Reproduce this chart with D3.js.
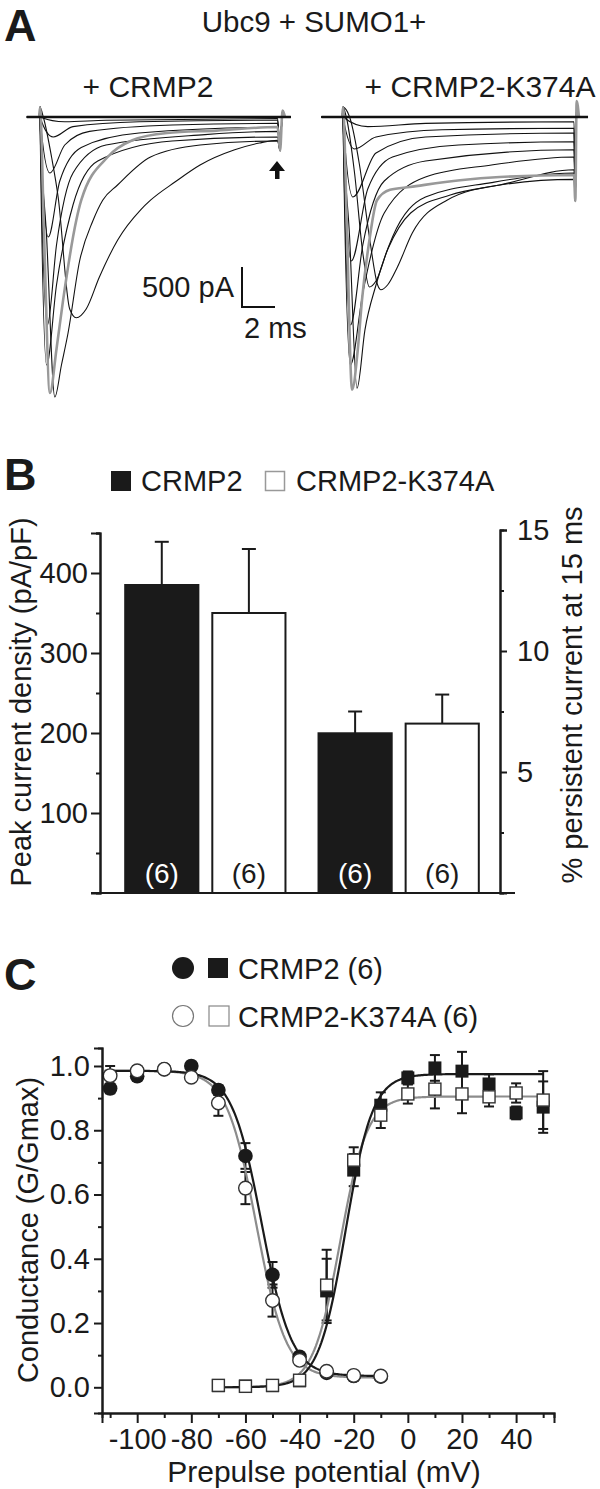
<!DOCTYPE html>
<html>
<head>
<meta charset="utf-8">
<script src="https://cdn.jsdelivr.net/npm/d3@7"></script>
<style>
  body { margin: 0; background: #fff; }
  svg { display: block; }
</style>
</head>
<body>
<svg id="fig" width="600" height="1489"></svg>
<script>
const FONT = '"Liberation Sans", Arial, Helvetica, sans-serif';

// ---------------- Panel A: current traces, [ms, pA] ----------------
const tracesCRMP2 = [
  [[-0.8, 0], [15.2, 0]],
  [[-0.8, 0], [0, 0], [1.5, -60], [4, -40], [14.4, -20]],
  [[-0.8, 0], [0, 0], [0.8, -250], [2, -120], [6, -60], [14.4, -40]],
  [[-0.8, 0], [0, 0], [0.6, -700], [1.5, -350], [3, -180], [8, -100], [14.4, -80]],
  [[-0.8, 0], [0, 0], [0.5, -1500], [1.2, -800], [2.5, -380], [6, -200], [14.4, -130]],
  [[-0.8, 0], [0, 0], [0.45, -2600], [1.0, -1600], [2, -700], [4, -350], [10, -220], [14.4, -180]],
  [[-0.8, 0], [0, 0], [0.4, -3100], [1.0, -2100], [2.0, -1100], [3.5, -550], [8, -300], [14.4, -250]],
  [[-0.8, 0], [0, 0], [0.4, -1500], [0.9, -3500], [1.3, -3100], [1.7, -2700], [2.4, -1800], [3.2, -1300], [3.8, -1040], [4.7, -850], [6.7, -500], [9.7, -350], [14.4, -300]],
  [[-0.8, 0], [0.2, 0], [0.7, -500], [1.1, -1000], [1.8, -2400], [2.2, -2510], [2.8, -2400], [3.6, -2000], [4.7, -1540], [6.1, -1160], [6.7, -1040], [8.2, -810], [9.7, -600], [11.8, -410], [13.3, -325], [14.4, -290]]
];
const grayCRMP2 = [[0, 0], [0.25, -1500], [0.6, -3450], [1.0, -2900], [1.4, -2290], [2.2, -1290], [2.5, -1040], [4.1, -500], [5.6, -290], [7.7, -200], [10.7, -170], [14.4, -125]];

const tracesK374A = [
  [[-1.3, 0], [14.85, 0]],
  [[-1.3, 0], [0, 0], [1.5, -120], [5, -80], [14.0, -60]],
  [[-1.3, 0], [0, 0], [0.7, -400], [2, -250], [6, -160], [14.0, -140]],
  [[-1.3, 0], [0, 0], [0.6, -1000], [2, -450], [5, -250], [14.0, -200]],
  [[-1.3, 0], [0, 0], [0.5, -1800], [1.5, -900], [3, -500], [7, -350], [14.0, -310]],
  [[-1.3, 0], [0, 0], [0.45, -2600], [1.2, -1600], [2.5, -800], [5, -550], [14.0, -410]],
  [[-1.3, 0], [0, 0], [0.45, -3100], [1.2, -2200], [2.5, -1200], [5, -750], [9, -600], [14.0, -500]],
  [[-1.3, 0], [0, 0], [0.4, -1500], [0.85, -3390], [1.33, -2660], [2.0, -2100], [3, -1500], [5, -1000], [9, -820], [14.0, -700]],
  [[-1.3, 0], [0.2, 0], [0.7, -700], [1.2, -1700], [1.6, -2125], [2.0, -2050], [2.7, -1660], [4.1, -1200], [6.5, -975], [9.5, -850], [14.0, -660]],
  [[-1.3, 0], [0.4, 0], [1.0, -600], [1.6, -1500], [2.1, -2100], [2.3, -2160], [2.7, -2100], [3.3, -1875], [4.2, -1450], [6.3, -1040], [9.5, -850], [14.0, -780]]
];
const grayK374A = [[0, 0], [0.25, -1500], [0.55, -3410], [0.9, -2900], [1.15, -2290], [1.6, -1540], [2.06, -1040], [2.85, -910], [4.06, -875], [7.1, -790], [9.5, -750], [14.0, -725]];

// capacitive transients at pulse on/offset: [ms after step, pA]
const onsetArtifact = [[-0.05, 0], [0, 120]];
const offsetCRMP2 = [[0.15, -420], [0.3, 80], [0.45, 0], [0.8, 0]];
const offsetK374A = [[0.08, -1050], [0.16, 200], [0.3, 0], [0.85, 0]];

// ---------------- Panel B ----------------
const barGroups = ['peak', 'persistent'];
const barSeries = ['CRMP2', 'CRMP2-K374A'];
const peakDensity = [385, 350];
const peakDensityErr = [54, 80];
const persistentPct = [6.6, 7.0];
const persistentPctErr = [0.9, 1.2];
const barN = [6, 6];
const leftTicks = [100, 200, 300, 400];
const leftMinor = [50, 150, 250, 350, 450];
const rightTicks = [5, 10, 15];
const rightMinor = [2.5, 7.5, 12.5];

// ---------------- Panel C ----------------
const inactV = [-110, -100, -90, -80, -70, -60, -50, -40, -30, -20, -10];
const inactCRMP2 = [0.93, 0.968, 0.99, 1.0, 0.925, 0.72, 0.35, 0.095, 0.045, 0.035, 0.033];
const inactCRMP2Err = [0.015, 0.01, 0.005, 0.008, 0.015, 0.04, 0.04, 0.012, 0.01, 0.01, 0.008];
const inactK374A = [0.97, 0.985, 0.99, 0.965, 0.885, 0.62, 0.27, 0.084, 0.05, 0.037, 0.035];
const inactK374AErr = [0.03, 0.015, 0.008, 0.01, 0.04, 0.05, 0.05, 0.01, 0.01, 0.01, 0.008];
const actV = [-70, -60, -50, -40, -30, -20, -10, 0, 10, 20, 30, 40, 50];
const actCRMP2 = [0.005, 0.004, 0.005, 0.02, 0.30, 0.676, 0.878, 0.963, 0.994, 0.984, 0.944, 0.854, 0.872];
const actCRMP2Err = [0.005, 0.005, 0.005, 0.005, 0.1, 0.05, 0.04, 0.02, 0.04, 0.06, 0.03, 0.02, 0.08];
const actK374A = [0.006, 0.003, 0.006, 0.022, 0.318, 0.707, 0.847, 0.913, 0.928, 0.913, 0.904, 0.916, 0.894];
const actK374AErr = [0.005, 0.005, 0.005, 0.005, 0.11, 0.04, 0.04, 0.03, 0.06, 0.06, 0.03, 0.03, 0.09];
// Boltzmann fits: [top, bottom, V50, k]
const inactFitCRMP2 = [0.985, 0.035, -54, 5.5];
const inactFitK374A = [0.985, 0.03, -56, 5.5];
const actFitCRMP2 = [0.975, 0, -23, 5];
const actFitK374A = [0.905, 0, -25, 5];
const cYTicks = [0, 0.2, 0.4, 0.6, 0.8, 1.0];
const cYMinor = [0.1, 0.3, 0.5, 0.7, 0.9];
const cXTicks = [-100, -80, -60, -40, -20, 0, 20, 40];
const cXMinor = [-110, -90, -70, -50, -30, -10, 10, 30, 50];

const svg = d3.select('#fig');

function txt(x, y, s, size, opts = {}) {
  return svg.append('text')
    .attr('x', x).attr('y', y)
    .attr('font-family', FONT)
    .attr('font-size', size)
    .attr('font-weight', opts.weight || 400)
    .attr('text-anchor', opts.anchor || 'start')
    .attr('fill', opts.fill || '#1a1a1a')
    .text(s);
}

// panel letters
txt(4, 41, 'A', 45, { weight: 700 });
txt(4, 490, 'B', 45, { weight: 700 });
txt(4, 990, 'C', 45, { weight: 700 });

// =================== A ===================
txt(314, 32, 'Ubc9 + SUMO1+', 29.5, { anchor: 'middle' });
txt(148, 97, '+ CRMP2', 30, { anchor: 'middle' });
txt(480, 97, '+ CRMP2-K374A', 30, { anchor: 'middle' });

const A_BASE = 117;
const MS_PX = 16.5;      // px per ms
const PA_PX = 0.08;      // px per pA (500 pA = 40 px)

function drawTraces(x0, traces, gray, offset) {
  const sx = d3.scaleLinear().domain([0, 1]).range([x0, x0 + MS_PX]);
  const sy = d3.scaleLinear().domain([0, -1000]).range([A_BASE, A_BASE + 1000 * PA_PX]);
  const line = d3.line().x(d => sx(d[0])).y(d => sy(d[1])).curve(d3.curveMonotoneX);
  // add on/offset transients around the recorded part
  const build = (tr, isGray) => {
    const last = tr[tr.length - 1];
    const head = isGray ? [...onsetArtifact, ...tr.slice(1)] : [tr[0], ...onsetArtifact, ...tr.slice(1)];
    const tail = offset.map(([dt, v]) => [last[0] + dt, v]);
    return head.concat(isGray ? tail.slice(0, 3) : tail);
  };
  const g = svg.append('g');
  const flat = traces.filter(tr => tr.length === 2);
  traces.filter(tr => tr.length > 2).forEach(tr => {
    g.append('path').attr('d', line(build(tr, false)))
      .attr('fill', 'none').attr('stroke', '#111').attr('stroke-width', 1.1);
  });
  g.append('path').attr('d', line(build(gray, true)))
    .attr('fill', 'none').attr('stroke', '#999').attr('stroke-width', 2.6);
  flat.forEach(tr => {
    g.append('path').attr('d', line(tr))
      .attr('fill', 'none').attr('stroke', '#111').attr('stroke-width', 2.5);
  });
  return { sx, sy };
}

const left = drawTraces(40, tracesCRMP2, grayCRMP2, offsetCRMP2);
drawTraces(343, tracesK374A, grayK374A, offsetK374A);

// arrow under the tail of the CRMP2 traces
svg.append('path')
  .attr('d', 'M277,161 L269,171 L275,171 L275,179 L279.5,179 L279.5,171 L285,171 Z')
  .attr('fill', '#111');

// scale bar: 500 pA, 2 ms
const SB_X = 242, SB_Y = 307;
const sbH = left.sy(-500) - left.sy(0);
const sbW = left.sx(2) - left.sx(0);
svg.append('path')
  .attr('d', `M${SB_X},${SB_Y - sbH} L${SB_X},${SB_Y} L${SB_X + sbW},${SB_Y}`)
  .attr('fill', 'none').attr('stroke', '#111').attr('stroke-width', 2);
txt(234, 297, '500 pA', 29, { anchor: 'end' });
txt(244, 338, '2 ms', 29);

// =================== B ===================
const B_TOP = 530, B_BASE = 893, B_L = 100, B_R = 500;
const yL = d3.scaleLinear().domain([0, 450]).range([B_BASE, B_BASE - 360]);
const yR = d3.scaleLinear().domain([0, 15]).range([B_BASE, B_TOP]);
const xG = d3.scaleBand().domain(barGroups).range([102, 502]).paddingInner(0.171).paddingOuter(0.12);
const xS = d3.scaleBand().domain(barSeries).range([0, xG.bandwidth()]).paddingInner(0.16);

// legend
svg.append('rect').attr('x', 111).attr('y', 471).attr('width', 20).attr('height', 20).attr('fill', '#1a1a1a');
txt(141, 491, 'CRMP2', 29);
svg.append('rect').attr('x', 265.5).attr('y', 471.5).attr('width', 19).attr('height', 19)
  .attr('fill', '#fff').attr('stroke', '#999').attr('stroke-width', 1.5);
txt(296, 491, 'CRMP2-K374A', 29);

const bars = [];
barSeries.forEach((s, i) => {
  bars.push({ g: 'peak', s, v: peakDensity[i], e: peakDensityErr[i], y: yL, n: barN[i] });
});
barSeries.forEach((s, i) => {
  bars.push({ g: 'persistent', s, v: persistentPct[i], e: persistentPctErr[i], y: yR, n: barN[i] });
});

const gB = svg.append('g');
bars.forEach(b => {
  const x = xG(b.g) + xS(b.s);
  const w = xS.bandwidth();
  const cx = x + w / 2;
  const filled = b.s === 'CRMP2';
  gB.append('line').attr('x1', cx).attr('x2', cx).attr('y1', b.y(b.v)).attr('y2', b.y(b.v + b.e))
    .attr('stroke', '#1a1a1a').attr('stroke-width', 2);
  gB.append('line').attr('x1', cx - 7).attr('x2', cx + 7).attr('y1', b.y(b.v + b.e)).attr('y2', b.y(b.v + b.e))
    .attr('stroke', '#1a1a1a').attr('stroke-width', 2);
  gB.append('rect').attr('x', x).attr('y', b.y(b.v)).attr('width', w).attr('height', B_BASE - b.y(b.v))
    .attr('fill', filled ? '#1a1a1a' : '#fff').attr('stroke', '#1a1a1a').attr('stroke-width', 2);
  gB.append('text').attr('x', cx).attr('y', 883).attr('text-anchor', 'middle')
    .attr('font-family', FONT).attr('font-size', 28)
    .attr('fill', filled ? '#fff' : '#1a1a1a').text(`(${b.n})`);
});

// axes
svg.append('g').attr('transform', `translate(${B_L},0)`)
  .call(d3.axisLeft(yL).tickValues(leftTicks).tickSize(9).tickPadding(3));
svg.append('g').attr('transform', `translate(${B_L},0)`)
  .call(d3.axisLeft(yL).tickValues(leftMinor).tickSize(4).tickFormat(''));
svg.append('g').attr('transform', `translate(${B_R},0)`)
  .call(d3.axisRight(yR).tickValues(rightTicks).tickSize(7).tickPadding(10));
svg.append('g').attr('transform', `translate(${B_R},0)`)
  .call(d3.axisRight(yR).tickValues(rightMinor).tickSize(4).tickFormat(''));
svg.append('line').attr('x1', 91).attr('x2', 515).attr('y1', B_BASE).attr('y2', B_BASE)
  .attr('stroke', '#1a1a1a').attr('stroke-width', 2);

svg.append('text').attr('transform', 'translate(31,702) rotate(-90)').attr('text-anchor', 'middle')
  .attr('font-family', FONT).attr('font-size', 29).attr('fill', '#1a1a1a')
  .text('Peak current density (pA/pF)');
svg.append('text').attr('transform', 'translate(582,695) rotate(-90)').attr('text-anchor', 'middle')
  .attr('font-family', FONT).attr('font-size', 29).attr('fill', '#1a1a1a')
  .text('% persistent current at 15 ms');

// =================== C ===================
const xC = d3.scaleLinear().domain([-113, 54]).range([102, 554]);
const yC = d3.scaleLinear().domain([-0.08, 1.056]).range([1413, 1048]);

// legend
svg.append('circle').attr('cx', 183).attr('cy', 968).attr('r', 11).attr('fill', '#1a1a1a');
svg.append('rect').attr('x', 208).attr('y', 958).attr('width', 20).attr('height', 20).attr('fill', '#1a1a1a');
txt(238, 979, 'CRMP2 (6)', 29);
svg.append('circle').attr('cx', 183).attr('cy', 1016).attr('r', 10.5)
  .attr('fill', '#fff').attr('stroke', '#777').attr('stroke-width', 1.2);
svg.append('rect').attr('x', 209).attr('y', 1006).attr('width', 20).attr('height', 20)
  .attr('fill', '#fff').attr('stroke', '#888').attr('stroke-width', 1.2);
txt(238, 1027, 'CRMP2-K374A (6)', 29);

const gC = svg.append('g');
const boltz = ([top, bottom, v50, k], sign) => v => bottom + (top - bottom) / (1 + Math.exp(sign * (v - v50) / k));
const fitLine = d3.line().x(d => xC(d[0])).y(d => yC(d[1]));
function drawFit(params, sign, v0, v1, color) {
  const f = boltz(params, sign);
  const pts = d3.range(v0, v1 + 0.01, 0.5).map(v => [v, f(v)]);
  gC.append('path').attr('d', fitLine(pts)).attr('fill', 'none')
    .attr('stroke', color).attr('stroke-width', 2.2);
}

function drawErr(vs, ys, es) {
  vs.forEach((v, i) => {
    const x = xC(v), y1 = yC(ys[i] - es[i]), y2 = yC(ys[i] + es[i]);
    gC.append('line').attr('x1', x).attr('x2', x).attr('y1', y1).attr('y2', y2)
      .attr('stroke', '#1a1a1a').attr('stroke-width', 2);
    [y1, y2].forEach(y => gC.append('line').attr('x1', x - 5).attr('x2', x + 5).attr('y1', y).attr('y2', y)
      .attr('stroke', '#1a1a1a').attr('stroke-width', 2));
  });
}

drawErr(inactV, inactCRMP2, inactCRMP2Err);
drawErr(inactV, inactK374A, inactK374AErr);
drawErr(actV, actCRMP2, actCRMP2Err);
drawErr(actV, actK374A, actK374AErr);

drawFit(inactFitK374A, 1, -112, -8, '#8c8c8c');
drawFit(actFitK374A, -1, -70, 50, '#8c8c8c');
drawFit(inactFitCRMP2, 1, -112, -8, '#1a1a1a');
drawFit(actFitCRMP2, -1, -70, 50, '#1a1a1a');

// symbols: filled first, open (white-filled) on top
inactV.forEach((v, i) => gC.append('circle').attr('cx', xC(v)).attr('cy', yC(inactCRMP2[i])).attr('r', 7.3)
  .attr('fill', '#1a1a1a'));
actV.forEach((v, i) => gC.append('rect').attr('x', xC(v) - 6.5).attr('y', yC(actCRMP2[i]) - 6.5)
  .attr('width', 13).attr('height', 13).attr('fill', '#1a1a1a'));
inactV.forEach((v, i) => gC.append('circle').attr('cx', xC(v)).attr('cy', yC(inactK374A[i])).attr('r', 6.8)
  .attr('fill', '#fff').attr('stroke', '#333').attr('stroke-width', 1.4));
actV.forEach((v, i) => gC.append('rect').attr('x', xC(v) - 6).attr('y', yC(actK374A[i]) - 6)
  .attr('width', 12).attr('height', 12).attr('fill', '#fff')
  .attr('stroke', '#333').attr('stroke-width', 1.4));

// axes
svg.append('g').attr('transform', 'translate(102,0)')
  .call(d3.axisLeft(yC).tickValues(cYTicks).tickSize(8).tickPadding(4).tickFormat(d3.format('.1f')));
svg.append('g').attr('transform', 'translate(102,0)')
  .call(d3.axisLeft(yC).tickValues(cYMinor).tickSize(4).tickFormat(''));
svg.append('g').attr('transform', 'translate(0,1413)')
  .call(d3.axisBottom(xC).tickValues(cXTicks).tickSize(10).tickPadding(5).tickFormat(d => String(d)));
svg.append('g').attr('transform', 'translate(0,1413)')
  .call(d3.axisBottom(xC).tickValues(cXMinor).tickSize(5).tickFormat(''));

svg.append('text').attr('transform', 'translate(38,1230) rotate(-90)').attr('text-anchor', 'middle')
  .attr('font-family', FONT).attr('font-size', 29).attr('fill', '#1a1a1a')
  .text('Conductance (G/Gmax)');
txt(324, 1482, 'Prepulse potential (mV)', 30, { anchor: 'middle' });

// common axis styling
svg.selectAll('.domain').attr('stroke', '#1a1a1a').attr('stroke-width', 2);
svg.selectAll('.tick line').attr('stroke', '#1a1a1a').attr('stroke-width', 2);
svg.selectAll('.tick text').attr('font-family', FONT).attr('font-size', 29).attr('fill', '#1a1a1a');
</script>
</body>
</html>
